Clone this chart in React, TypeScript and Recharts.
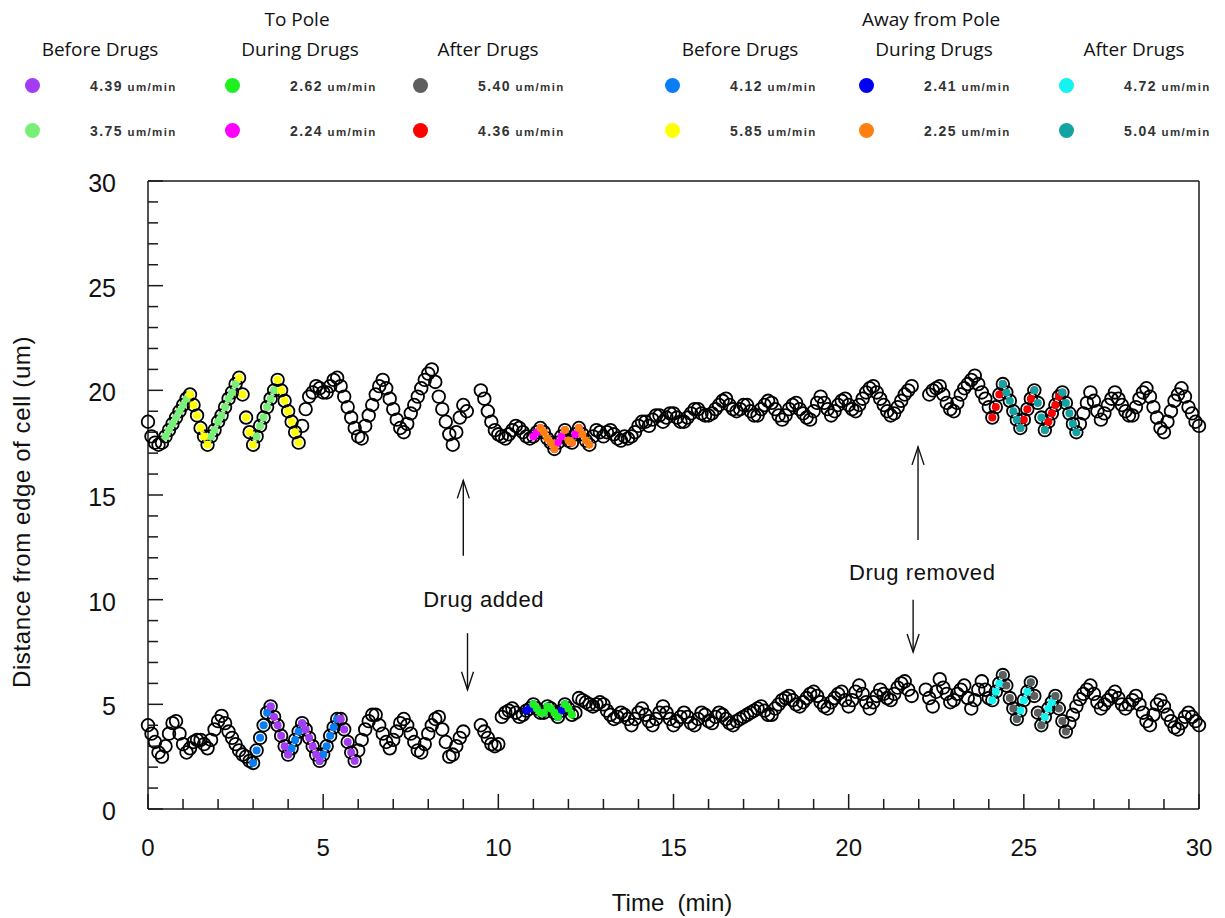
import React from "react";
import { ScatterChart, Scatter, XAxis, YAxis, ReferenceLine, ReferenceDot } from "recharts";

// positions were sampled every STEP minutes starting at t = 0
const STEP = 0.1;

// distance from edge of cell (um) for the upper kinetochore track, null = not detected
const upperTrack: (number | null)[] = [
  18.5, 17.8, 17.5, 17.4, 17.5, 17.8, 18.1, 18.4, 18.7, 19.0,
  19.3, 19.6, 19.8, 19.3, 18.8, 18.2, 17.8, 17.4, 17.8, 18.1,
  18.5, 18.8, 19.2, 19.6, 19.9, 20.3, 20.6, 19.8, 18.7, 18.0,
  17.4, 17.8, 18.3, 18.7, 19.2, 19.6, 20.0, 20.5, 20.0, 19.5,
  19.0, 18.5, 18.0, 17.5, 18.3, 19.1, 19.7, 19.9, 20.2, 20.1,
  19.9, 19.9, 20.2, 20.5, 20.6, 20.2, 19.7, 19.2, 18.7, 18.2,
  17.8, 17.7, 18.3, 18.8, 19.3, 19.8, 20.2, 20.5, 20.1, 19.6,
  19.1, 18.6, 18.2, 18.0, 18.4, 18.9, 19.3, 19.7, 20.1, 20.5,
  20.8, 21.0, 20.4, 19.7, 19.1, 18.5, 17.9, 17.4, 18.0, 18.7,
  19.3, 19.0, null, null, null, 20.0, 19.6, 19.0, 18.5, 18.1,
  17.9, 17.8, 17.7, 17.9, 18.1, 18.3, 18.2, 18.0, 17.8, 17.7,
  17.8, 18.0, 18.2, 18.0, 17.7, 17.5, 17.2, 17.5, 17.8, 18.1,
  17.6, 17.5, 17.9, 18.2, 17.9, 17.6, 17.4, 17.8, 18.1, 18.0,
  17.8, 18.0, 18.1, 17.9, 17.7, 17.6, 17.8, 17.7, 17.8, 18.0,
  18.3, 18.5, 18.5, 18.3, 18.6, 18.8, 18.8, 18.5, 18.7, 18.9,
  18.9, 18.7, 18.5, 18.5, 18.7, 18.9, 19.1, 19.1, 18.9, 18.8,
  18.8, 18.9, 19.1, 19.3, 19.5, 19.6, 19.3, 19.1, 19.0, 19.1,
  19.3, 19.3, 19.0, 18.8, 18.8, 19.1, 19.3, 19.5, 19.4, 19.1,
  18.8, 18.6, 18.8, 19.1, 19.3, 19.4, 19.1, 18.9, 18.7, 18.6,
  19.0, 19.4, 19.7, 19.4, 19.1, 18.8, 19.0, 19.3, 19.5, 19.6,
  19.3, 19.1, 19.0, 19.3, 19.6, 19.9, 20.1, 20.2, 19.9, 19.6,
  19.3, 19.0, 18.8, 18.9, 19.2, 19.5, 19.8, 20.0, 20.2, null,
  null, null, null, 19.8, 20.0, 20.1, 20.2, 19.8, 19.4, 19.1,
  19.0, 19.4, 19.8, 20.1, 20.3, 20.5, 20.7, 20.3, 19.9, 19.6,
  19.2, 18.7, 19.2, 19.8, 20.3, 19.9, 19.5, 19.0, 18.6, 18.2,
  18.6, 19.1, 19.6, 20.0, 19.4, 18.7, 18.1, 18.5, 18.9, 19.3,
  19.7, 19.9, 19.4, 18.9, 18.4, 18.0, 18.4, 18.9, 19.4, 19.9,
  19.5, 19.0, 18.6, 18.9, 19.3, 19.6, 19.9, 19.6, 19.3, 19.0,
  18.8, 18.8, 19.2, 19.6, 19.9, 20.1, 19.7, 19.2, 18.7, 18.2,
  18.0, 18.5, 19.0, 19.5, 19.8, 20.1, 19.7, 19.2, 18.9, 18.5,
  18.3,
];

// lower kinetochore track
const lowerTrack: (number | null)[] = [
  4.0, 3.6, 3.2, 2.7, 2.5, 3.0, 3.6, 4.1, 4.2, 3.6,
  3.1, 2.7, 2.9, 3.2, 3.3, 3.3, 3.1, 2.9, 3.3, 3.8,
  4.2, 4.45, 4.1, 3.7, 3.4, 3.1, 2.8, 2.6, 2.5, 2.3,
  2.2, 2.8, 3.4, 4.0, 4.6, 4.9, 4.4, 4.0, 3.5, 3.0,
  2.6, 2.9, 3.3, 3.7, 4.1, 3.8, 3.4, 3.0, 2.6, 2.3,
  2.6, 3.0, 3.5, 3.9, 4.3, 4.3, 3.8, 3.2, 2.7, 2.3,
  2.8, 3.3, 3.8, 4.2, 4.5, 4.5, 4.0, 3.6, 3.2, 2.9,
  3.3, 3.7, 4.1, 4.3, 4.0, 3.6, 3.2, 2.8, 2.7, 3.1,
  3.6, 4.0, 4.3, 4.4, 3.8, 3.2, 2.5, 2.6, 3.0, 3.4,
  3.7, null, null, null, null, 4.0, 3.7, 3.4, 3.1, 3.0,
  3.1, 4.4, 4.6, 4.7, 4.8, 4.6, 4.4, 4.5, 4.7, 4.8,
  5.0, 4.8, 4.6, 4.6, 4.9, 4.8, 4.6, 4.4, 4.7, 5.0,
  4.8, 4.5, 4.6, 5.3, 5.2, 5.1, 5.0, 4.9, 5.0, 5.1,
  5.0, 4.7, 4.5, 4.3, 4.4, 4.6, 4.5, 4.3, 4.0, 4.3,
  4.6, 4.8, 4.5, 4.2, 4.0, 4.3, 4.6, 4.9, 4.6, 4.3,
  4.0, 4.2, 4.4, 4.6, 4.4, 4.1, 4.0, 4.3, 4.6, 4.5,
  4.2, 4.1, 4.4, 4.6, 4.5, 4.3, 4.1, 4.0, 4.2, 4.3,
  4.4, 4.5, 4.6, 4.7, 4.8, 4.9, 4.7, 4.5, 4.5, 4.8,
  5.0, 5.2, 5.3, 5.4, 5.2, 5.0, 4.9, 5.1, 5.3, 5.5,
  5.6, 5.4, 5.1, 4.9, 4.8, 5.1, 5.3, 5.5, 5.6, 5.2,
  4.9, 5.2, 5.6, 5.9, 5.5, 5.1, 4.8, 5.1, 5.4, 5.7,
  5.5, 5.3, 5.2, 5.5, 5.8, 6.0, 6.1, 5.7, 5.4, null,
  null, null, 5.7, 5.3, 4.9, 5.6, 6.2, 5.8, 5.5, 5.1,
  5.2, 5.5, 5.7, 5.9, 5.3, 4.8, 5.2, 5.7, 6.1, 5.7,
  5.3, 5.2, 5.6, 6.0, 6.4, 5.9, 5.3, 4.8, 4.3, 4.7,
  5.2, 5.6, 6.05, 5.4, 4.6, 4.0, 4.4, 4.8, 5.1, 5.4,
  4.8, 4.2, 3.7, 4.1, 4.5, 4.9, 5.25, 5.5, 5.7, 5.9,
  5.5, 5.1, 4.8, 5.0, 5.2, 5.4, 5.6, 5.3, 5.0, 4.8,
  5.0, 5.2, 5.4, 5.0, 4.6, 4.2, 4.0, 4.5, 5.0, 5.2,
  4.9, 4.5, 4.2, 3.9, 3.8, 4.1, 4.4, 4.6, 4.4, 4.2,
  4.0,
];

// time windows (min) of the fitted runs, highlighted in colour
const upperToPoleBefore = [[0.5, 1.2], [1.8, 2.5], [3.1, 3.6]];
const upperAwayBefore = [[1.2, 1.7], [2.6, 3.0], [3.7, 4.3]];
const upperToPoleDuring = [[11.0, 11.2], [11.6, 11.9], [12.1, 12.3]];
const upperAwayDuring = [[11.2, 11.6], [11.9, 12.1], [12.3, 12.6]];
const upperToPoleAfter = [[24.1, 24.4], [24.9, 25.3], [25.6, 26.1]];
const upperAwayAfter = [[24.4, 24.9], [25.3, 25.6], [26.1, 26.5]];
const lowerAwayBefore = [[3.0, 3.5], [4.0, 4.4], [4.9, 5.4]];
const lowerToPoleBefore = [[3.5, 4.0], [4.4, 4.9], [5.5, 5.9]];
const lowerAwayDuring = [[10.8, 11.0], [11.3, 11.4], [11.7, 11.9]];
const lowerToPoleDuring = [[11.0, 11.3], [11.4, 11.7], [11.9, 12.1]];
const lowerAwayAfter = [[24.1, 24.4], [24.8, 25.2], [25.5, 25.9]];
const lowerToPoleAfter = [[24.4, 24.8], [25.2, 25.5], [25.9, 26.2]];

const xTicks = [0, 1, 2, 3, 4, 5, 6, 7, 8, 9, 10, 11, 12, 13, 14, 15, 16, 17, 18, 19, 20, 21, 22, 23, 24, 25, 26, 27, 28, 29, 30];
const yTicks = [0, 1, 2, 3, 4, 5, 6, 7, 8, 9, 10, 11, 12, 13, 14, 15, 16, 17, 18, 19, 20, 21, 22, 23, 24, 25, 26, 27, 28, 29, 30];

const C = {
  purple: "#a33cf3",
  lightGreen: "#78f078",
  green: "#1ff01f",
  magenta: "#ff00ff",
  gray: "#5e5e5e",
  red: "#ff0000",
  blue: "#0a7df5",
  yellow: "#ffff00",
  darkBlue: "#0000f2",
  orange: "#ff7f10",
  cyan: "#14f2f2",
  teal: "#13a3a3",
};

const toPolePanel = [
  { head: "Before Drugs", items: [{ color: C.purple, rate: "4.39" }, { color: C.lightGreen, rate: "3.75" }] },
  { head: "During Drugs", items: [{ color: C.green, rate: "2.62" }, { color: C.magenta, rate: "2.24" }] },
  { head: "After Drugs", items: [{ color: C.gray, rate: "5.40" }, { color: C.red, rate: "4.36" }] },
];
const awayPanel = [
  { head: "Before Drugs", items: [{ color: C.blue, rate: "4.12" }, { color: C.yellow, rate: "5.85" }] },
  { head: "During Drugs", items: [{ color: C.darkBlue, rate: "2.41" }, { color: C.orange, rate: "2.25" }] },
  { head: "After Drugs", items: [{ color: C.cyan, rate: "4.72" }, { color: C.teal, rate: "5.04" }] },
];

type Pt = { t: number; y: number };
const toPoints = (track: (number | null)[]): Pt[] =>
  track.flatMap((y, i) => (y === null ? [] : [{ t: Math.round(i * STEP * 10) / 10, y }]));
const pick = (pts: Pt[], spans: number[][]) =>
  pts.filter((p) => spans.some(([a, b]) => p.t >= a - 1e-6 && p.t <= b + 1e-6));

const upperPts = toPoints(upperTrack);
const lowerPts = toPoints(lowerTrack);

const highlights = [
  { pts: pick(upperPts, upperToPoleBefore), color: C.lightGreen },
  { pts: pick(upperPts, upperAwayBefore), color: C.yellow },
  { pts: pick(upperPts, upperToPoleDuring), color: C.magenta },
  { pts: pick(upperPts, upperAwayDuring), color: C.orange },
  { pts: pick(upperPts, upperToPoleAfter), color: C.red },
  { pts: pick(upperPts, upperAwayAfter), color: C.teal },
  { pts: pick(lowerPts, lowerAwayBefore), color: C.blue },
  { pts: pick(lowerPts, lowerToPoleBefore), color: C.purple },
  { pts: pick(lowerPts, lowerAwayDuring), color: C.darkBlue },
  { pts: pick(lowerPts, lowerToPoleDuring), color: C.green },
  { pts: pick(lowerPts, lowerAwayAfter), color: C.cyan },
  { pts: pick(lowerPts, lowerToPoleAfter), color: C.gray },
];

const AXIS = "#1a1a1a";
const TICK_FONT = "'Liberation Sans', Arial, sans-serif";

const OpenCircle = (p: any) => (
  <circle cx={p.cx} cy={p.cy} r={6.3} fill="none" stroke="#000" strokeWidth={1.8} />
);
const filledDot = (color: string) => (p: any) => <circle cx={p.cx} cy={p.cy} r={4} fill={color} />;

const BottomTick = (p: any) => {
  const v = p.payload.value;
  const major = v % 5 === 0;
  return (
    <g>
      <line x1={p.x} y1={p.y} x2={p.x} y2={p.y - (major ? 15 : 10)} stroke={AXIS} strokeWidth={1.5} />
      {major && (
        <text x={p.x} y={p.y + 47} textAnchor="middle" fontSize={24} fontFamily={TICK_FONT} fill="#111">
          {v}
        </text>
      )}
    </g>
  );
};
const TopTick = (p: any) => {
  const major = p.payload.value % 5 === 0;
  return <line x1={p.x} y1={p.y} x2={p.x} y2={p.y + (major ? 15 : 10)} stroke={AXIS} strokeWidth={1.5} />;
};
const LeftTick = (p: any) => {
  const v = p.payload.value;
  const major = v % 5 === 0;
  return (
    <g>
      <line x1={p.x} y1={p.y} x2={p.x + (major ? 15 : 10)} y2={p.y} stroke={AXIS} strokeWidth={1.5} />
      {major && (
        <text x={p.x - 32} y={p.y + 11} textAnchor="end" fontSize={25} fontFamily={TICK_FONT} fill="#111">
          {v}
        </text>
      )}
    </g>
  );
};
const RightTick = (p: any) => {
  const major = p.payload.value % 5 === 0;
  return <line x1={p.x} y1={p.y} x2={p.x - (major ? 15 : 10)} y2={p.y} stroke={AXIS} strokeWidth={1.5} />;
};

const Arrow = (p: any) => {
  const { x1, y1, x2, y2 } = p;
  const back = y2 < y1 ? 18 : -18;
  return (
    <g stroke="#111" strokeWidth={1.4} fill="none">
      <line x1={x1} y1={y1} x2={x2} y2={y2} />
      <polyline points={`${x2 - 6},${y2 + back} ${x2},${y2} ${x2 + 6},${y2 + back}`} />
    </g>
  );
};
const note = (text: string) => (p: any) => (
  <text x={p.cx} y={p.cy} textAnchor="middle" dominantBaseline="central" fontSize={22}
    letterSpacing={0.6} fontFamily={TICK_FONT} fill="#111">
    {text}
  </text>
);

function LegendPanel({ title, cols, left }: { title: string; cols: typeof toPolePanel; left: number[] }) {
  const heading: React.CSSProperties = {
    position: "absolute", fontFamily: "'Open Sans', sans-serif", fontSize: 19, color: "#111",
    whiteSpace: "nowrap", transform: "translateX(-50%)",
  };
  return (
    <>
      <div style={{ ...heading, left: left[1] + 72, top: 6 }}>{title}</div>
      {cols.map((c, ci) => (
        <React.Fragment key={ci}>
          <div style={{ ...heading, left: left[ci] + 75, top: 36 }}>{c.head}</div>
          {c.items.map((it, ii) => (
            <div key={ii} style={{ position: "absolute", left: left[ci], top: 78 + ii * 45, whiteSpace: "nowrap" }}>
              <span style={{
                position: "absolute", left: 0, top: 0, width: 15, height: 15, borderRadius: "50%", background: it.color,
              }} />
              <span style={{
                position: "absolute", left: 65, top: -1, fontFamily: TICK_FONT, color: "#333", letterSpacing: 1.4,
                fontWeight: 600,
              }}>
                <span style={{ fontSize: 14 }}>{it.rate}</span>
                <span style={{ fontSize: 11.5 }}> um/min</span>
              </span>
            </div>
          ))}
        </React.Fragment>
      ))}
    </>
  );
}

export default function App() {
  return (
    <div style={{ position: "absolute", left: 0, top: 0, width: 1225, height: 918, background: "#fff" }}>
      <LegendPanel title="To Pole" cols={toPolePanel} left={[25, 225, 413]} />
      <LegendPanel title="Away from Pole" cols={awayPanel} left={[665, 859, 1059]} />

      <div style={{ position: "absolute", left: 0, top: 0 }}>
        <ScatterChart width={1225} height={918} margin={{ top: 180, right: 20, bottom: 49, left: 48 }}>
          <XAxis type="number" dataKey="t" domain={[0, 30]} ticks={xTicks} interval={0} height={60}
            tickSize={0} tickMargin={0} tick={<BottomTick />} axisLine={{ stroke: AXIS, strokeWidth: 1.5 }} />
          <XAxis xAxisId="top" orientation="top" type="number" dataKey="t" domain={[0, 30]} ticks={xTicks}
            interval={0} height={1} tickSize={0} tickMargin={0} tick={<TopTick />}
            axisLine={{ stroke: AXIS, strokeWidth: 1.5 }} />
          <YAxis type="number" dataKey="y" domain={[0, 30]} ticks={yTicks} interval={0} width={100}
            tickSize={0} tickMargin={0} tick={<LeftTick />} axisLine={{ stroke: AXIS, strokeWidth: 1.5 }} />
          <YAxis yAxisId="right" orientation="right" type="number" dataKey="y" domain={[0, 30]} ticks={yTicks}
            interval={0} width={6} tickSize={0} tickMargin={0} tick={<RightTick />}
            axisLine={{ stroke: AXIS, strokeWidth: 1.5 }} />

          <Scatter data={upperPts} shape={OpenCircle} isAnimationActive={false} />
          <Scatter data={lowerPts} shape={OpenCircle} isAnimationActive={false} />
          {highlights.map((h, i) => (
            <Scatter key={i} data={h.pts} shape={filledDot(h.color)} isAnimationActive={false} />
          ))}

          <ReferenceLine segment={[{ x: 9.0, y: 12.1 }, { x: 9.0, y: 15.7 }]} shape={Arrow} />
          <ReferenceLine segment={[{ x: 9.12, y: 8.4 }, { x: 9.12, y: 5.7 }]} shape={Arrow} />
          <ReferenceLine segment={[{ x: 21.98, y: 12.85 }, { x: 21.98, y: 17.3 }]} shape={Arrow} />
          <ReferenceLine segment={[{ x: 21.84, y: 10.0 }, { x: 21.84, y: 7.5 }]} shape={Arrow} />
          <ReferenceDot x={9.58} y={10.0} r={0} shape={note("Drug added")} />
          <ReferenceDot x={22.1} y={11.3} r={0} shape={note("Drug removed")} />
        </ScatterChart>
      </div>

      <div style={{
        position: "absolute", left: 22, top: 512, transform: "translate(-50%, -50%) rotate(-90deg)",
        fontFamily: TICK_FONT, fontSize: 24, letterSpacing: 0.6, whiteSpace: "nowrap", color: "#111",
      }}>
        Distance from edge of cell (um)
      </div>
      <div style={{
        position: "absolute", left: 672, top: 903, transform: "translate(-50%, -50%)",
        fontFamily: TICK_FONT, fontSize: 24, whiteSpace: "pre", color: "#111",
      }}>
        {"Time  (min)"}
      </div>
    </div>
  );
}
